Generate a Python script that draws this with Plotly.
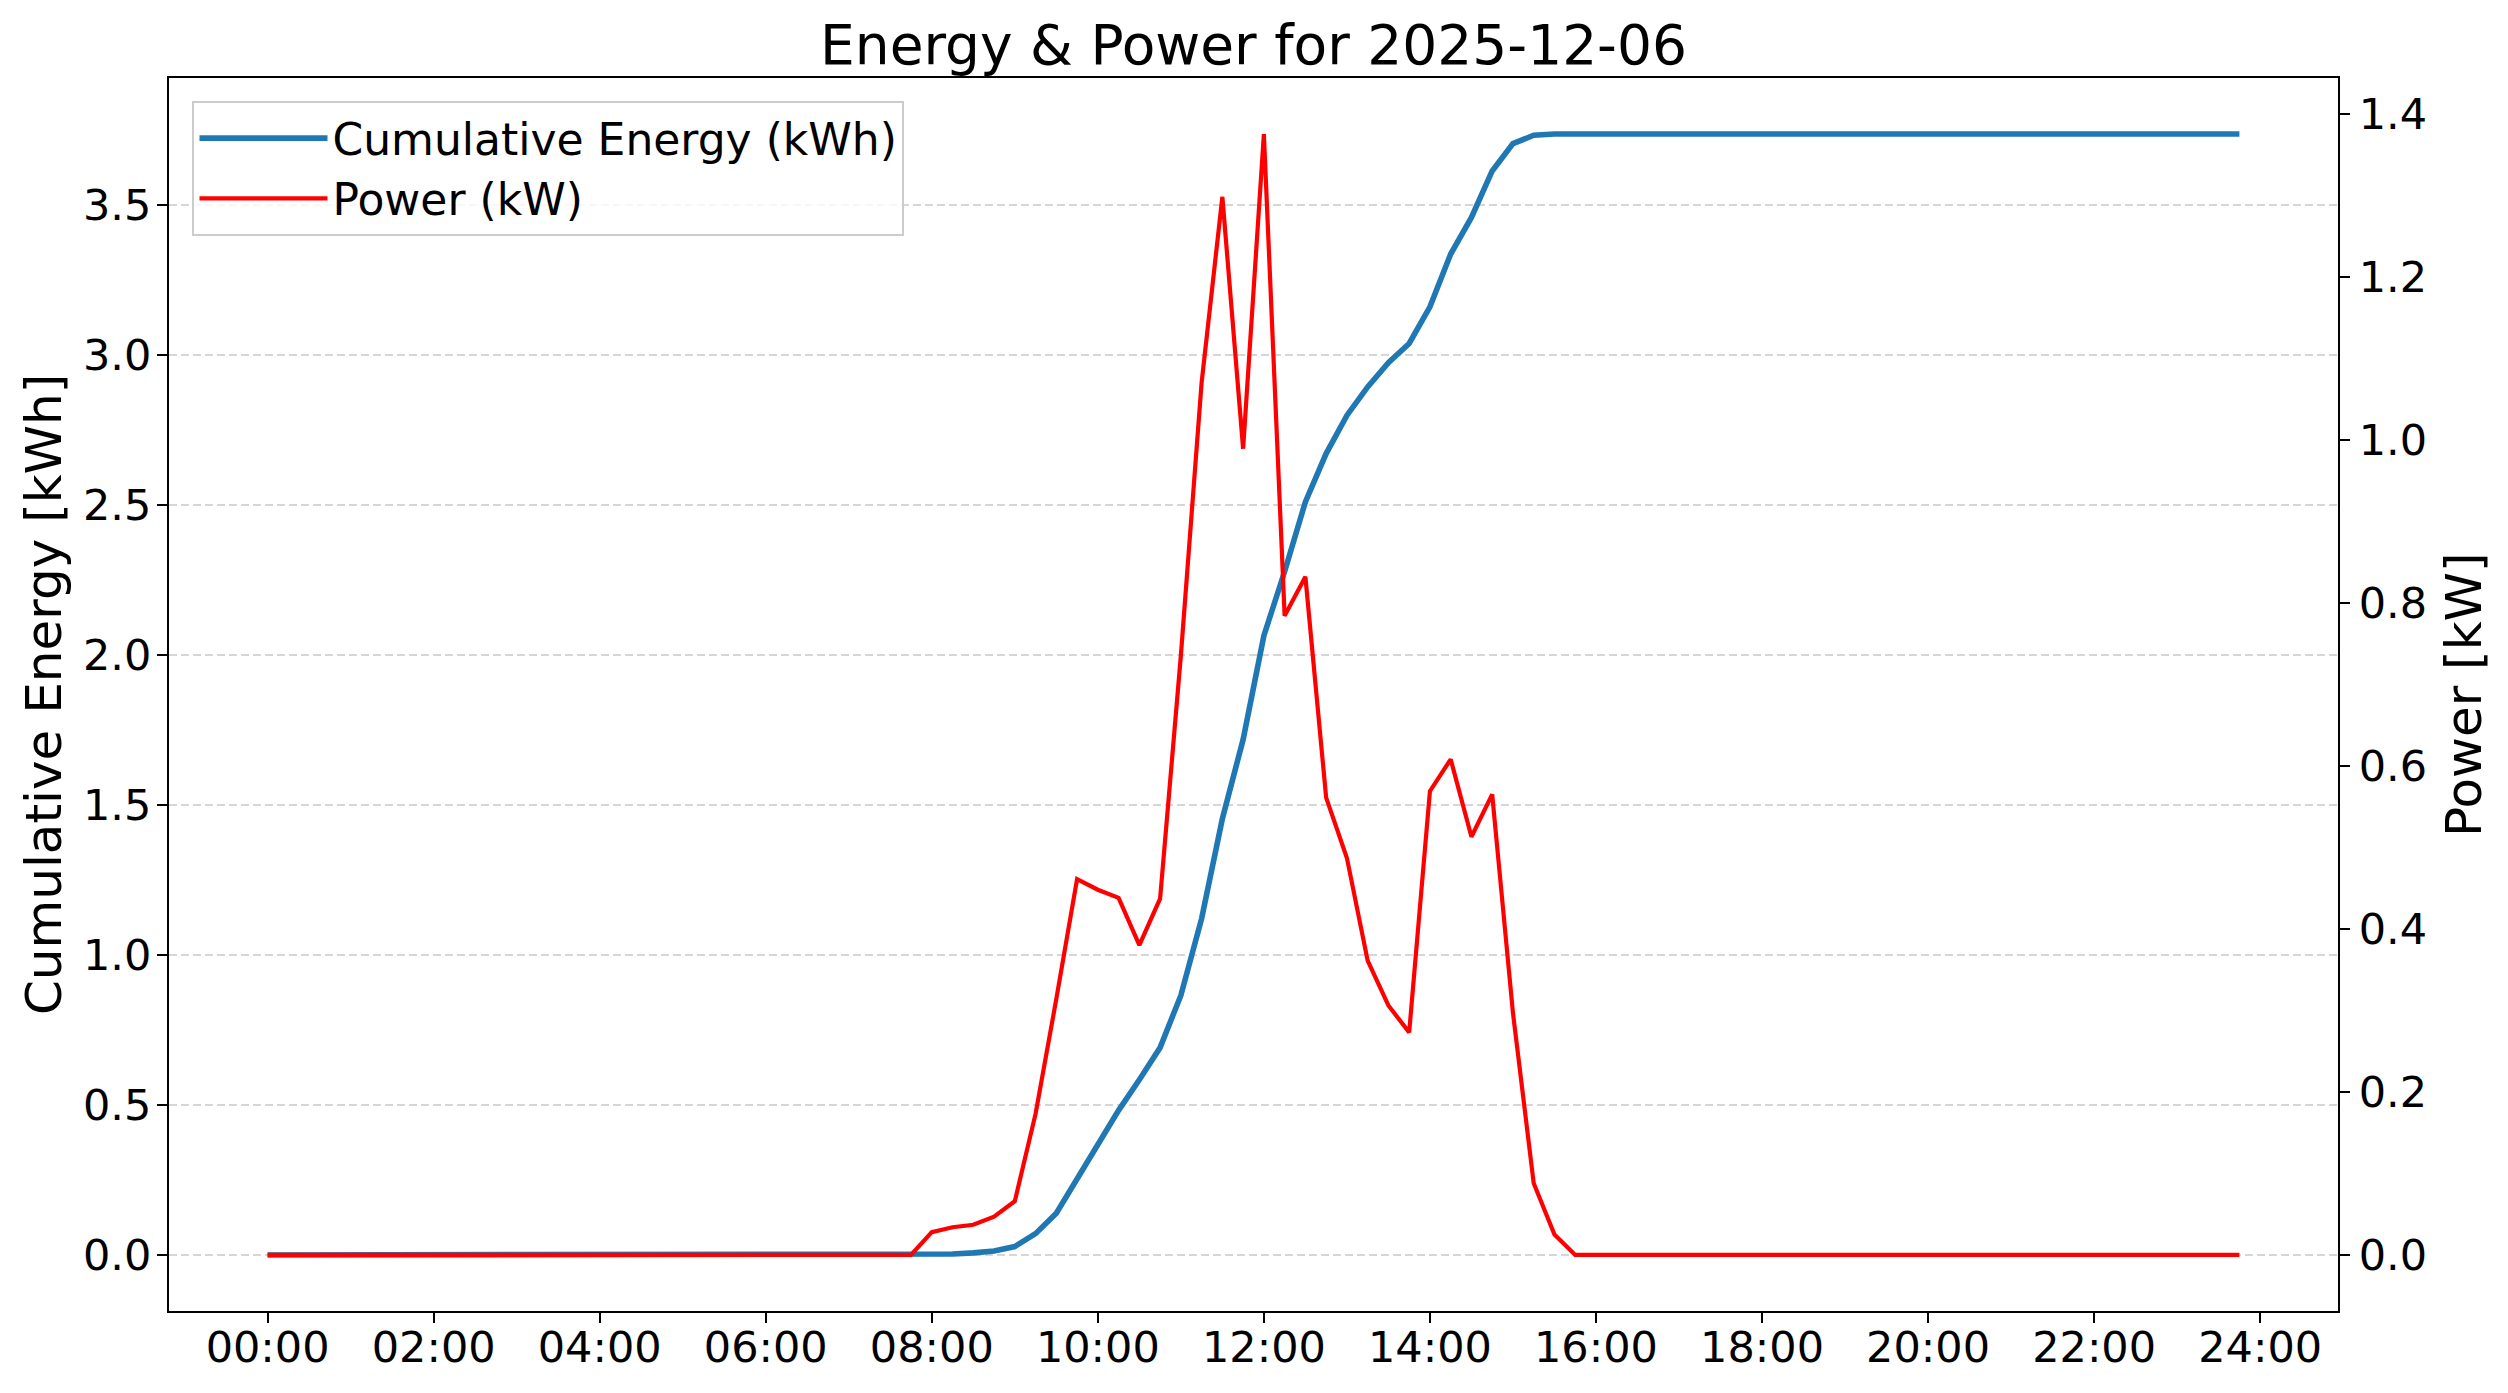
import plotly.graph_objects as go

# 15-minute timestamps for 2025-12-06
times = [f"{h:02d}:{m:02d}" for h in range(24) for m in (0, 15, 30, 45)]

# Power (kW)
power_night_am = [0.0] * 32  # 00:00 - 07:45
power_day = [0.028, 0.034, 0.037, 0.047, 0.066, 0.173, 0.314, 0.461,
             0.448, 0.438, 0.380, 0.437, 0.735, 1.070, 1.298, 0.989,
             1.375, 0.784, 0.832, 0.561, 0.487, 0.361, 0.306, 0.273,
             0.569, 0.608, 0.513, 0.565, 0.297, 0.088, 0.025, 0.0]  # 08:00 - 15:45
power_night_pm = [0.0] * 32  # 16:00 - 23:45
power_kw = power_night_am + power_day + power_night_pm

# Cumulative energy (kWh)
energy_night_am = [0.0] * 32
energy_day = [0.002, 0.003, 0.007, 0.013, 0.028, 0.071, 0.139, 0.253,
              0.367, 0.482, 0.584, 0.691, 0.865, 1.121, 1.454, 1.718,
              2.064, 2.278, 2.510, 2.671, 2.798, 2.893, 2.974, 3.038,
              3.160, 3.336, 3.458, 3.613, 3.704, 3.732, 3.736, 3.736]
energy_night_pm = [3.736] * 32
energy_kwh = energy_night_am + energy_day + energy_night_pm

x_tick_labels = ["00:00", "02:00", "04:00", "06:00", "08:00", "10:00", "12:00",
                 "14:00", "16:00", "18:00", "20:00", "22:00", "24:00"]
x_tick_hours = [int(t[:2]) for t in x_tick_labels]
hours = [int(t[:2]) + int(t[3:]) / 60 for t in times]

FONT = "DejaVu Sans"
OFF = 8  # default page body margin
W, H = 2508 - OFF, 1393 - OFF
# plot area in page pixels
PL, PR, PT, PB = 168.5, 2338.5, 78, 1311
L, R, T, B = PL - OFF, PR - OFF, PT - OFF, PB - OFF
pw, ph = R - L, B - T

fig = go.Figure()
fig.add_trace(go.Scatter(x=hours, y=energy_kwh, mode="lines",
                         name="Cumulative Energy (kWh)",
                         line=dict(color="#1f77b4", width=5.6), yaxis="y"))
fig.add_trace(go.Scatter(x=hours, y=power_kw, mode="lines",
                         name="Power (kW)",
                         line=dict(color="#ff0000", width=4.2), yaxis="y2"))

xspan = hours[-1] - hours[0]
emax = max(energy_kwh)
pmax = max(power_kw)

axis_common = dict(showline=True, linecolor="black", linewidth=2.2,
                   ticks="outside", ticklen=10, tickwidth=2.2, tickcolor="black",
                   tickfont=dict(family=FONT, size=43, color="black"),
                   zeroline=False)

fig.update_layout(
    width=W, height=H,
    margin=dict(l=L, r=W - R, t=T, b=H - B, pad=0),
    paper_bgcolor="white", plot_bgcolor="white",
    font=dict(family=FONT, color="black"),
    title=dict(text="Energy & Power for 2025-12-06",
               font=dict(family=FONT, size=55, color="black"),
               x=0.5, xref="paper", xanchor="center",
               y=1 - (45 - OFF) / H, yref="container", yanchor="middle"),
    xaxis=dict(range=[hours[0] - 0.05 * xspan, hours[-1] + 0.05 * xspan],
               tickvals=x_tick_hours, ticktext=x_tick_labels,
               ticklabelstandoff=-13,
               showgrid=False, mirror=True, **axis_common),
    yaxis=dict(range=[-0.05 * emax, emax * 1.05],
               tickvals=[0, 0.5, 1.0, 1.5, 2.0, 2.5, 3.0, 3.5], tickformat=".1f",
               ticklabelstandoff=-3,
               showgrid=True, gridcolor="#d6d6d6", gridwidth=2,
               griddash="8px,4px", **axis_common),
    yaxis2=dict(range=[-0.05 * pmax, pmax * 1.05], overlaying="y", side="right",
                tickvals=[0, 0.2, 0.4, 0.6, 0.8, 1.0, 1.2, 1.4], tickformat=".1f",
                showgrid=False, **axis_common),
    legend=dict(x=(192 - PL) / pw, y=(PB - 101) / ph, xanchor="left", yanchor="top",
                bgcolor="rgba(255,255,255,0.8)", bordercolor="#cccccc", borderwidth=2,
                font=dict(family=FONT, size=44, color="black"),
                itemwidth=128, tracegroupgap=0),
    showlegend=True,
    annotations=[
        dict(text="Cumulative Energy [kWh]", textangle=-90, showarrow=False,
             xref="paper", yref="paper", x=(43 - PL) / pw, y=0.5,
             xanchor="center", yanchor="middle",
             font=dict(family=FONT, size=50, color="black")),
        dict(text="Power [kW]", textangle=-90, showarrow=False,
             xref="paper", yref="paper", x=(2464 - PL) / pw, y=0.5,
             xanchor="center", yanchor="middle",
             font=dict(family=FONT, size=50, color="black")),
    ],
)

fig.write_html("out.html")
